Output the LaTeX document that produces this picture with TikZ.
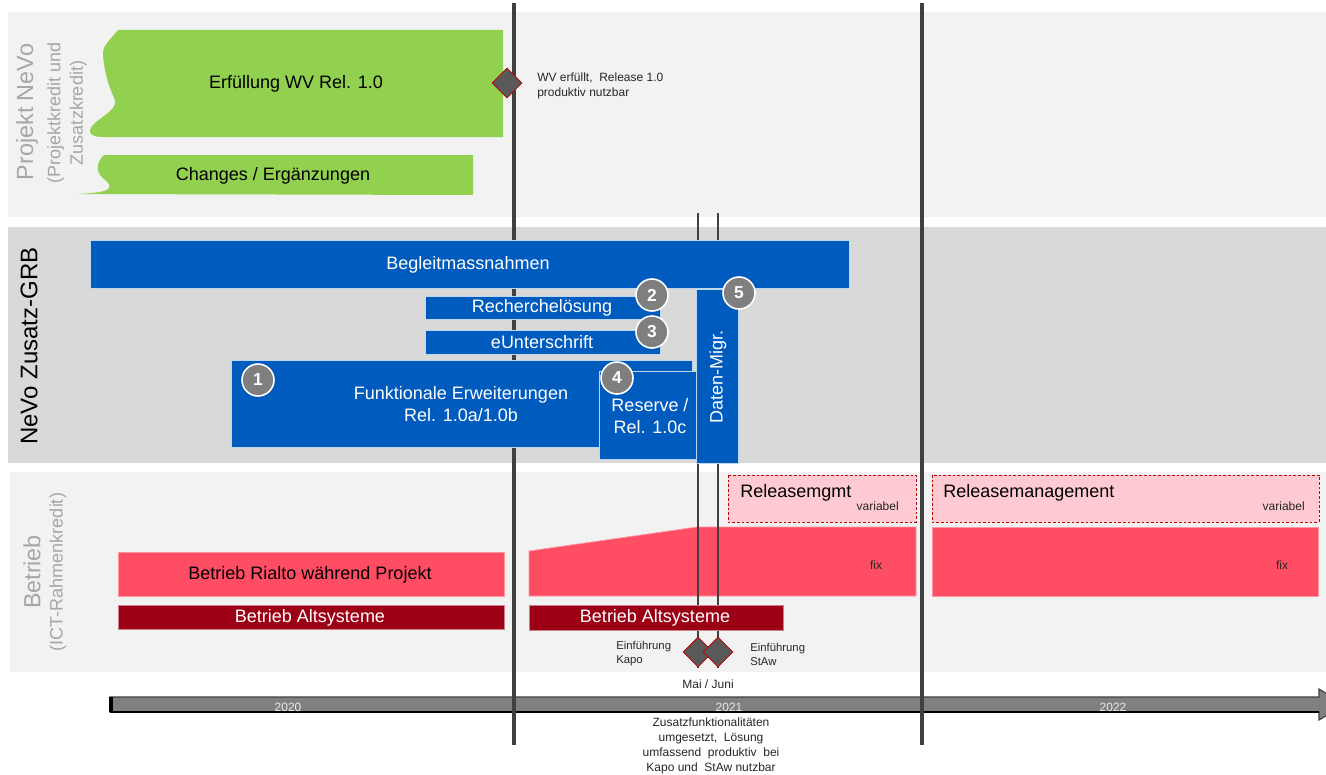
\documentclass[tikz,border=0pt]{standalone}
\usepackage{fontspec}
\setmainfont{Liberation Sans}
\usetikzlibrary{shapes.geometric}
\definecolor{bandL}{HTML}{F2F2F2}
\definecolor{bandM}{HTML}{D9D9D9}
\definecolor{greenC}{HTML}{92D050}
\definecolor{blueC}{HTML}{005BBF}
\definecolor{numC}{HTML}{7F7F7F}
\definecolor{pinkC}{HTML}{FF4D64}
\definecolor{lpinkC}{HTML}{FFCAD1}
\definecolor{dredC}{HTML}{9C0015}
\definecolor{lineC}{HTML}{404040}
\definecolor{labC}{HTML}{A6A6A6}
\definecolor{diaC}{HTML}{595959}
\definecolor{diaB}{HTML}{C00000}
\definecolor{barC}{HTML}{808080}
\newcommand{\fBig}{\fontsize{13.5}{16.5}\selectfont}
\newcommand{\fSmall}{\fontsize{8.5}{10.5}\selectfont}
\newcommand{\fNote}{\fontsize{9}{11.25}\selectfont}
\newcommand{\fHead}{\fontsize{17.5}{20}\selectfont}
\newcommand{\fSub}{\fontsize{13.5}{17}\selectfont}
\begin{document}
\begin{tikzpicture}[x=0.75pt,y=-0.75pt,
  greenbox/.style={fill=greenC},
  bluebox/.style={fill=blueC, draw=white!75!blueC, line width=0.6pt},
  redbox/.style={fill=pinkC, draw=white!40!pinkC, line width=0.5pt},
  altbox/.style={fill=dredC, draw=white!50!dredC, line width=0.5pt},
  relbox/.style={fill=lpinkC, draw=diaB, dash pattern=on 2pt off 1.5pt, line width=0.6pt},
  milestone/.style={diamond, fill=diaC, draw=diaB, line width=0.6pt, minimum width=22.5pt, minimum height=22.5pt, inner sep=0pt},
  num/.style={circle, fill=numC, draw=white, line width=1.2pt, minimum size=24pt, inner sep=0pt, text=white, font=\bfseries\fontsize{13}{13}\selectfont},
  boxtext/.style={text=white, font=\fBig, align=center, inner sep=0pt},
  darktext/.style={text=black, font=\fBig, align=center, inner sep=0pt},
  smalltext/.style={text=black!85, font=\fSmall, align=left, inner sep=0pt},
  notetext/.style={text=black!85, font=\fNote, align=center, inner sep=0pt},
  yeartext/.style={text=white!92!black, font=\fNote, inner sep=0pt},
  headlabel/.style={rotate=90, text=labC, font=\fHead, inner sep=0pt},
  sublabel/.style={rotate=90, text=labC, font=\fSub, align=center, inner sep=0pt},
  vline/.style={draw=lineC, line width=2.3pt},
  thinline/.style={draw=lineC, line width=1pt}
]
\useasboundingbox (0,0) rectangle (1326,774);
\fill[white] (0,0) rectangle (1326,774);

% bands
\fill[bandL] (8,12) rectangle (1326,217);
\fill[bandM] (8,227) rectangle (1326,463);
\fill[bandL] (10,472) rectangle (1326,672);

% timeline bar
\draw[fill=barC, draw=lineC, line width=0.8pt] (110,697) -- (1319,697) -- (1319,689) -- (1345,704.5) -- (1319,720) -- (1319,712) -- (110,712) -- cycle;
\draw[black, line width=1pt] (110,712) -- (1319,712);
\fill[black] (109,697) rectangle (113,712);
\node[yeartext] (y2020) at (288,707) {2020};
\node[yeartext] (y2021) at (729,707) {2021};
\node[yeartext] (y2022) at (1113,707) {2022};

% pink operation blocks
\path[redbox] (118,552) rectangle (504,596);
\path[redbox] (529,551) -- (697,527) -- (916,527) -- (916,596) -- (529,596) -- cycle;
\path[redbox] (932,527) rectangle (1318,596);
\path[relbox] (728,475) rectangle (916,522);
\path[relbox] (932,475) rectangle (1319,522);

% vertical lines
\coordinate (l1t) at (514,3);
\coordinate (l1b) at (514,745);
\coordinate (l2t) at (922,3);
\coordinate (l2b) at (922,745);
\coordinate (k1t) at (698,213);
\coordinate (k1b) at (698,668);
\coordinate (k2t) at (718,213);
\coordinate (k2b) at (718,668);
\draw[vline] (l1t) -- (l1b);
\draw[vline] (l2t) -- (l2b);
\draw[thinline] (k1t) -- (k1b);
\draw[thinline] (k2t) -- (k2b);

% green blocks
\fill[greenC] (503,30) -- (118,30) .. controls (110,40) and (102,46) .. (103,55)
  .. controls (104,70) and (108,85) .. (115,100)
  .. controls (118,112) and (92,120) .. (90,130)
  .. controls (89,135) and (95,137) .. (102,137) -- (503,137) -- cycle;
\fill[greenC] (473,155) -- (104,155) .. controls (97,162) and (96,170) .. (100,175)
  .. controls (104,180) and (112,184) .. (109,188)
  .. controls (106,192) and (95,193) .. (78,194) -- (473,195) -- cycle;
\node[darktext] (erf) at (296,84) {Erfüllung WV Rel. 1.0};
\node[darktext] (chg) at (273,176) {Changes / Ergänzungen};

% blue blocks
\path[bluebox] (90,240) rectangle (849,288);
\path[bluebox] (425,296) rectangle (660,319);
\path[bluebox] (425,330) rectangle (660,354);
\path[bluebox] (231,360) rectangle (692,447);
\path[bluebox] (599,371) rectangle (702,459);
\path[bluebox] (696,289) rectangle (738,463);
\node[boxtext] (begl) at (468,265) {Begleitmassnahmen};
\node[boxtext] (rech) at (542,308) {Recherchelösung};
\node[boxtext] (eunt) at (542,342) {eUnterschrift};
\node[boxtext] (funk) at (461,404) {Funktionale Erweiterungen\\Rel. 1.0a/1.0b};
\node[boxtext] (res) at (650,416) {Reserve /\\Rel. 1.0c};
\node[boxtext, rotate=90] (dat) at (718,377) {Daten-Migr.};
\node[num] (n1) at (258,380) {1};
\node[num] (n2) at (652,295) {2};
\node[num] (n3) at (652,332) {3};
\node[num] (n4) at (617,378) {4};
\node[num] (n5) at (739,293) {5};

% dark red blocks
\path[altbox] (118,605) rectangle (504,629);
\path[altbox] (529,605) rectangle (783,630);
\node[darktext] (rial) at (310,575) {Betrieb Rialto während Projekt};
\node[boxtext] (alt1) at (310,618) {Betrieb Altsysteme};
\node[boxtext] (alt2) at (655,618) {Betrieb Altsysteme};
\node[notetext] (fix1) at (876,565) {fix};
\node[notetext] (fix2) at (1282,565) {fix};
\node[darktext, anchor=west] (rm1) at (740,493) {Releasemgmt};
\node[darktext, anchor=west] (rm2) at (943,493) {Releasemanagement};
\node[notetext, anchor=east] (var1) at (899,506) {variabel};
\node[notetext, anchor=east] (var2) at (1305,506) {variabel};

% milestones
\node[milestone] (m1) at (507,83) {};
\node[smalltext, font=\fNote, anchor=west] (m1t) at (537,85.5) {WV erfüllt,\ \ Release 1.0\\produktiv\ nutzbar};
\node[milestone] (kapo) at (698,652) {};
\node[milestone] (staw) at (718,652) {};
\node[smalltext, anchor=west] (kapot) at (616,654) {Einführung\\Kapo};
\node[smalltext, anchor=west] (stawt) at (750,654) {Einführung\\StAw};
\node[notetext] (mai) at (708,684) {Mai / Juni};
\node[notetext, anchor=north] (zus) at (711,718) {Zusatzfunktionalitäten\\umgesetzt,\ \ Lösung\\umfassend\ \ produktiv\ \ bei\\Kapo und\ \ StAw nutzbar};

% side labels
\node[headlabel] (lab1) at (27,112) {Projekt NeVo};
\node[sublabel] (lab1s) at (67,113) {(Projektkredit und\\Zusatzkredit)};
\node[rotate=90, font=\fontsize{18}{20}\selectfont, inner sep=0pt] (lab2) at (29,346) {NeVo Zusatz-GRB};
\node[headlabel] (lab3) at (32,572) {Betrieb};
\node[sublabel] (lab3s) at (58,572) {(ICT-Rahmenkredit)};
\end{tikzpicture}
\end{document}
